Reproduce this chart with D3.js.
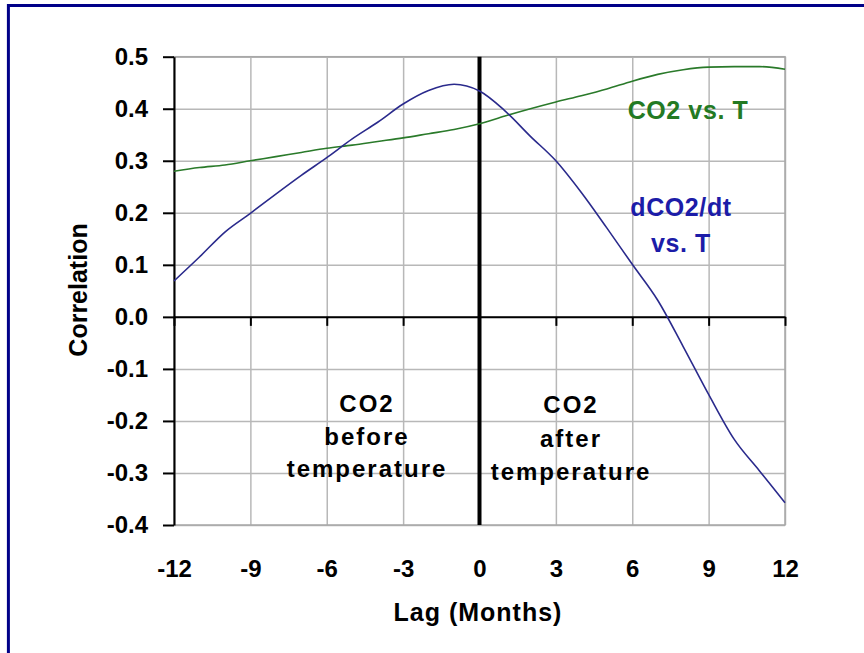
<!DOCTYPE html>
<html>
<head>
<meta charset="utf-8">
<script src="https://cdn.jsdelivr.net/npm/d3@7"></script>
<style>
  body { margin: 0; background: #fff; }
  svg text { font-family: "Liberation Sans", Arial, sans-serif; font-weight: bold; }
</style>
</head>
<body>
<div id="vis1"></div>
<script>
// lag in months, -12 .. 12
const lags = [-12,-11,-10,-9,-8,-7,-6,-5,-4,-3,-2,-1,0,1,2,3,4,5,6,7,8,9,10,11,12];

// correlation of CO2 with temperature
const co2VsT = [0.280,0.287,0.292,0.300,0.308,0.316,0.324,0.330,0.337,0.344,0.352,0.360,0.371,
                0.386,0.400,0.413,0.425,0.438,0.453,0.466,0.475,0.480,0.481,0.481,0.476];

// correlation of dCO2/dt with temperature
const dco2VsT = [0.069,0.115,0.163,0.199,0.236,0.272,0.306,0.342,0.374,0.409,0.435,0.447,0.434,
                 0.396,0.347,0.300,0.239,0.171,0.101,0.032,-0.057,-0.149,-0.235,-0.296,-0.357];

const xTicks = [-12,-9,-6,-3,0,3,6,9,12];
const yTicks = [-0.4,-0.3,-0.2,-0.1,0,0.1,0.2,0.3,0.4,0.5];
const yTickLabels = ["-0.4","-0.3","-0.2","-0.1","0.0","0.1","0.2","0.3","0.4","0.5"];

const beforeLabel = ["CO2","before","temperature"];
const afterLabel = ["CO2","after","temperature"];
const greenLabel = ["CO2 vs. T"];
const blueLabel = ["dCO2/dt","vs. T"];

// set the dimensions and margins of the graph
let margin = {top: 56.7, left: 174, right: 79, bottom: 128},
  width = 864 - margin.left - margin.right,
  height = 653 - margin.top - margin.bottom;

const root = d3.select("#vis1")
  .append("svg")
    .attr("width", 864)
    .attr("height", 653);

// blue frame round the picture (runs off the right and bottom edge)
root.append("rect")
  .attr("x", 8.4).attr("y", 5.5)
  .attr("width", 900).attr("height", 700)
  .attr("fill", "none")
  .attr("stroke", "#000088")
  .attr("stroke-width", 3);

const svg1 = root.append("g")
    .attr("transform", `translate(${margin.left},${margin.top})`);

const x = d3.scaleLinear().domain([-12, 12]).range([0, width]);
const y = d3.scaleLinear().domain([-0.4, 0.5]).range([height, 0]);

// grid lines
svg1.append("g")
  .attr("class", "grid")
  .call(d3.axisBottom(x).tickValues(xTicks).tickSize(height).tickFormat(""))
  .call(g => g.select(".domain").remove());
svg1.append("g")
  .attr("class", "grid")
  .call(d3.axisLeft(y).tickValues(yTicks).tickSize(-width).tickFormat(""))
  .call(g => g.select(".domain").remove());
svg1.selectAll(".grid line").attr("stroke", "#b8b8b8").attr("stroke-width", 1.5);

// plot border
svg1.append("rect")
  .attr("width", width).attr("height", height)
  .attr("fill", "none")
  .attr("stroke", "#a8a8a8")
  .attr("stroke-width", 1.5);

// zero line with ticks
svg1.append("g")
  .attr("transform", `translate(0,${y(0)})`)
  .call(d3.axisBottom(x).tickValues(xTicks).tickSize(9).tickSizeOuter(0).tickFormat(""))
  .call(g => g.selectAll("line, path").attr("stroke", "#000").attr("stroke-width", 2));

// x labels
svg1.append("g")
  .attr("transform", `translate(0,${height})`)
  .call(d3.axisBottom(x).tickValues(xTicks).tickSize(0).tickPadding(35).tickFormat(d => d))
  .call(g => g.select(".domain").remove())
  .selectAll("text")
    .style("font-size", "24px")
    .attr("fill", "#000");

// y axis
svg1.append("g")
  .call(d3.axisLeft(y).tickValues(yTicks).tickSize(11).tickSizeOuter(0).tickPadding(15)
    .tickFormat((d, i) => yTickLabels[i]))
  .call(g => g.selectAll("line, path").attr("stroke", "#000").attr("stroke-width", 2))
  .selectAll("text")
    .style("font-size", "24px")
    .attr("fill", "#000");

// vertical line at lag 0
svg1.append("line")
  .attr("x1", x(0)).attr("x2", x(0))
  .attr("y1", 0).attr("y2", height)
  .attr("stroke", "#000")
  .attr("stroke-width", 4);

// the two curves
const line = d3.line()
  .x((d, i) => x(lags[i]))
  .y(d => y(d))
  .curve(d3.curveMonotoneX);

svg1.append("path")
  .datum(co2VsT)
  .attr("d", line)
  .attr("fill", "none")
  .attr("stroke", "#2a7a2a")
  .attr("stroke-width", 1.6);

svg1.append("path")
  .datum(dco2VsT)
  .attr("d", line)
  .attr("fill", "none")
  .attr("stroke", "#2a2a8c")
  .attr("stroke-width", 1.6);

// text blocks
function block(lines, cx, y0, gap, color, size, spacing) {
  root.append("text")
    .attr("text-anchor", "middle")
    .style("font-size", size + "px")
    .style("letter-spacing", spacing + "px")
    .attr("fill", color)
    .selectAll("tspan")
    .data(lines)
    .join("tspan")
      .attr("x", cx)
      .attr("y", (d, i) => y0 + i * gap)
      .text(d => d);
}

block(beforeLabel, 367, 412, 32.5, "#000", 24, 2);
block(afterLabel, 571, 413, 33.5, "#000", 24, 2);
block(greenLabel, 688, 119, 0, "#237a23", 25, 0.6);
block(blueLabel, 681, 216, 36, "#1c1ca8", 25, 0.6);

// axis titles
root.append("text")
  .attr("x", 478).attr("y", 621)
  .attr("text-anchor", "middle")
  .style("font-size", "25px")
  .style("letter-spacing", "1px")
  .text("Lag (Months)");

root.append("text")
  .attr("transform", "translate(87,290) rotate(-90)")
  .attr("text-anchor", "middle")
  .style("font-size", "25px")
  .text("Correlation");
</script>
</body>
</html>
